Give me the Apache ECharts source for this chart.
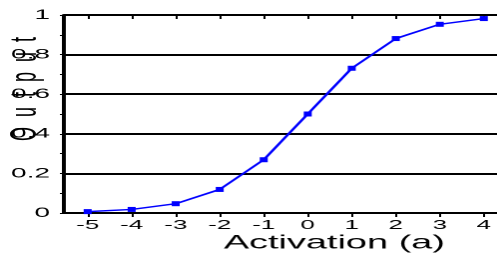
<!DOCTYPE html>
<html>
<head>
<meta charset="utf-8">
<script src="https://cdn.jsdelivr.net/npm/echarts@6/dist/echarts.min.js"></script>
<style>
  html, body { margin: 0; padding: 0; background: #fff; overflow: hidden; }
  /* the reference is stretched ~2x horizontally, so draw narrow and scale */
  #chart { width: 249px; height: 255px; transform: scaleX(1.996); transform-origin: 0 0; }
</style>
</head>
<body>
<div id="chart"></div>
<script>
const activation = [-5, -4, -3, -2, -1, 0, 1, 2, 3, 4];
const output = [0.007, 0.018, 0.047, 0.119, 0.269, 0.5, 0.731, 0.881, 0.953, 0.982];
const yTicks = [0, 0.2, 0.4, 0.6, 0.8, 1];

const FONT = "Liberation Sans, Arial, sans-serif";
const INK = "#000";

const chart = echarts.init(document.getElementById("chart"), undefined, {
  renderer: "canvas",
  devicePixelRatio: 2,
});

const xBase = {
  type: "value",
  min: -5.54,
  max: 4.3,
  splitLine: { show: false },
};

chart.setOption({
  animation: false,
  grid: { left: 32, right: 0, top: 15, bottom: 42, outerBoundsMode: "none", containLabel: false },
  xAxis: [
    {
      ...xBase,
      name: "Activation (a)",
      nameLocation: "middle",
      nameGap: 21,
      nameMoveOverlap: false,
      nameTextStyle: { color: INK, fontFamily: FONT, fontSize: 19, padding: [0, 0, 0, 54] },
      axisLine: { onZero: false, lineStyle: { color: INK, width: 2 } },
      axisTick: { length: 4, lineStyle: { color: INK, width: 1 }, customValues: activation },
      axisLabel: { color: INK, fontFamily: FONT, fontSize: 13, margin: 6, customValues: activation },
    },
    {
      ...xBase,
      axisLine: { show: false, onZero: false },
      axisTick: { inside: true, length: 4, lineStyle: { color: INK, width: 1 }, customValues: activation },
      axisLabel: { show: false },
    },
  ],
  yAxis: {
    type: "value",
    min: 0,
    max: 1,
    interval: 0.2,
    name: "O  u  t  p  u  t",
    nameLocation: "middle",
    nameRotate: 90,
    nameGap: 10,
    nameMoveOverlap: false,
    nameTextStyle: { color: INK, fontFamily: FONT, fontSize: 18, padding: [0, 0, 0, 50] },
    axisLine: { show: true, onZero: false, lineStyle: { color: INK, width: 2 } },
    axisTick: { show: true, length: 2, lineStyle: { color: INK, width: 1 } },
    minorTick: { show: true, splitNumber: 2, length: 2, lineStyle: { color: INK, width: 1 } },
    splitLine: { lineStyle: { color: INK, width: 2 } },
    axisLabel: {
      color: INK,
      fontFamily: FONT,
      fontSize: 14,
      margin: 7,
      formatter: (v) => (yTicks.includes(+v.toFixed(1)) ? String(+v.toFixed(1)) : ""),
    },
  },
  series: [
    {
      type: "line",
      xAxisIndex: 0,
      data: activation.map((a, i) => [a, output[i]]),
      symbol: "rect",
      symbolSize: [4, 5],
      lineStyle: { color: "#0000ff", width: 1.5 },
      itemStyle: { color: "#0000ff" },
    },
  ],
});
</script>
</body>
</html>
